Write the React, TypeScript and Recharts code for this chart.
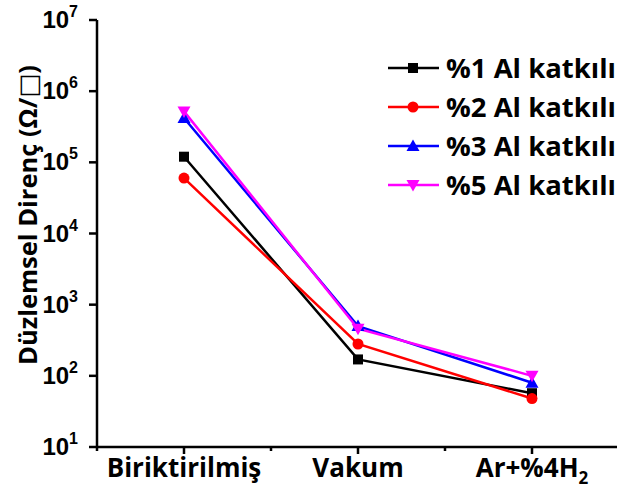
import React from "react";
import { LineChart, Line, XAxis, YAxis } from "recharts";

const categories = ["Biriktirilmiş", "Vakum", "Ar+%4H2"];
const al1 = [1.2e5, 170, 57];
const al2 = [6e4, 280, 48];
const al3 = [4.2e5, 500, 80];
const al5 = [5.2e5, 460, 100];
const seriesNames = ["%1 Al katkılı", "%2 Al katkılı", "%3 Al katkılı", "%5 Al katkılı"];
const yTicks = [10, 100, 1e3, 1e4, 1e5, 1e6, 1e7];

const data = categories.map((c, i) => ({
  cat: c,
  al1: al1[i],
  al2: al2[i],
  al3: al3[i],
  al5: al5[i],
}));

const FONT = "'Open Sans', 'DejaVu Sans', sans-serif";
const ARIAL = "'Liberation Sans', Arial, sans-serif";
const W = 617;
const H = 493;
const LEFT = 97;
const RIGHT = -2;
const BAND = (W - LEFT - RIGHT) / categories.length;

type Kind = "square" | "circle" | "up" | "down";

const Marker = ({ cx, cy, kind, color }: { cx: number; cy: number; kind: Kind; color: string }) => {
  if (cx == null || cy == null) return null;
  if (kind === "square") return <rect x={cx - 5} y={cy - 5} width={10} height={10} fill={color} />;
  if (kind === "circle") return <circle cx={cx} cy={cy} r={5.5} fill={color} />;
  if (kind === "up")
    return <polygon points={`${cx},${cy - 6.5} ${cx + 6.5},${cy + 5} ${cx - 6.5},${cy + 5}`} fill={color} />;
  return <polygon points={`${cx},${cy + 6.5} ${cx + 6.5},${cy - 5} ${cx - 6.5},${cy - 5}`} fill={color} />;
};

const series: { key: string; color: string; kind: Kind }[] = [
  { key: "al1", color: "#000000", kind: "square" },
  { key: "al2", color: "#ff0000", kind: "circle" },
  { key: "al3", color: "#0000ff", kind: "up" },
  { key: "al5", color: "#ff00ff", kind: "down" },
];

const YTick = (props: any) => {
  const { x, y, payload } = props;
  const exp = Math.round(Math.log10(payload.value));
  return (
    <text x={x - 9} y={y + 8} textAnchor="end" fontFamily={ARIAL} fontWeight={700} fontSize={24} fill="#000">
      <tspan>10</tspan>
      <tspan dy={-11} fontSize={16}>{exp}</tspan>
    </text>
  );
};

const XTick = (props: any) => {
  const { x, y, payload } = props;
  const label: string = payload.value;
  const sub = label.endsWith("H2");
  return (
    <g>
      <line x1={x - BAND / 2} x2={x - BAND / 2} y1={y - 9} y2={y - 5} stroke="#000" strokeWidth={2.5} />
      <text x={x} y={y + 21} textAnchor="middle" fontFamily={FONT} fontWeight={700} fontSize={26} fill="#000">
        {sub ? (
          <>
            <tspan>{label.slice(0, -1)}</tspan>
            <tspan dy={7} fontSize={17}>2</tspan>
          </>
        ) : (
          label
        )}
      </text>
    </g>
  );
};

const YTitle = () => (
  <text
    transform="translate(37,215) rotate(-90)"
    textAnchor="middle"
    fontFamily={FONT}
    fontWeight={700}
    fontSize={25.5}
    fill="#000"
  >
    Düzlemsel Direnç (Ω/□)
  </text>
);

const LegendBox = () => (
  <div
    style={{
      position: "absolute",
      left: 387,
      top: 48,
      fontFamily: FONT,
      fontWeight: 700,
      fontSize: 27.5,
      color: "#000",
      whiteSpace: "nowrap",
    }}
  >
    {series.map((s, i) => (
      <div key={s.key} style={{ display: "flex", alignItems: "center", height: 39 }}>
        <svg width={54} height={20} style={{ marginRight: 5, flex: "none" }}>
          <line x1={1} x2={52} y1={10} y2={10} stroke={s.color} strokeWidth={2.5} />
          <Marker cx={26} cy={10} kind={s.kind} color={s.color} />
        </svg>
        <span>{seriesNames[i]}</span>
      </div>
    ))}
  </div>
);

export default function App() {
  return (
    <div style={{ position: "absolute", left: 0, top: 0, width: W, height: H, background: "#fff", overflow: "hidden" }}>
      <LineChart width={W} height={H} data={data} margin={{ top: 20, right: RIGHT, bottom: 0, left: 0 }}>
        <XAxis
          dataKey="cat"
          height={46}
          padding={{ left: BAND / 2, right: BAND / 2 }}
          axisLine={{ stroke: "#000", strokeWidth: 2.5 }}
          tickLine={{ stroke: "#000", strokeWidth: 2.5 }}
          tickSize={7}
          tick={<XTick />}
          interval={0}
        />
        <YAxis
          scale="log"
          domain={[10, 1e7]}
          ticks={yTicks}
          allowDataOverflow
          width={LEFT}
          axisLine={{ stroke: "#000", strokeWidth: 2.5 }}
          tickLine={{ stroke: "#000", strokeWidth: 2.5 }}
          tickSize={8}
          tick={<YTick />}
          interval={0}
          label={{ content: () => <YTitle /> }}
        />
        {series.map((s) => (
          <Line
            key={s.key}
            dataKey={s.key}
            name={s.key}
            stroke={s.color}
            strokeWidth={2.5}
            isAnimationActive={false}
            dot={(p: any) => <Marker key={`${s.key}-${p.index}`} cx={p.cx} cy={p.cy} kind={s.kind} color={s.color} />}
            activeDot={false}
          />
        ))}
      </LineChart>
      <LegendBox />
    </div>
  );
}
